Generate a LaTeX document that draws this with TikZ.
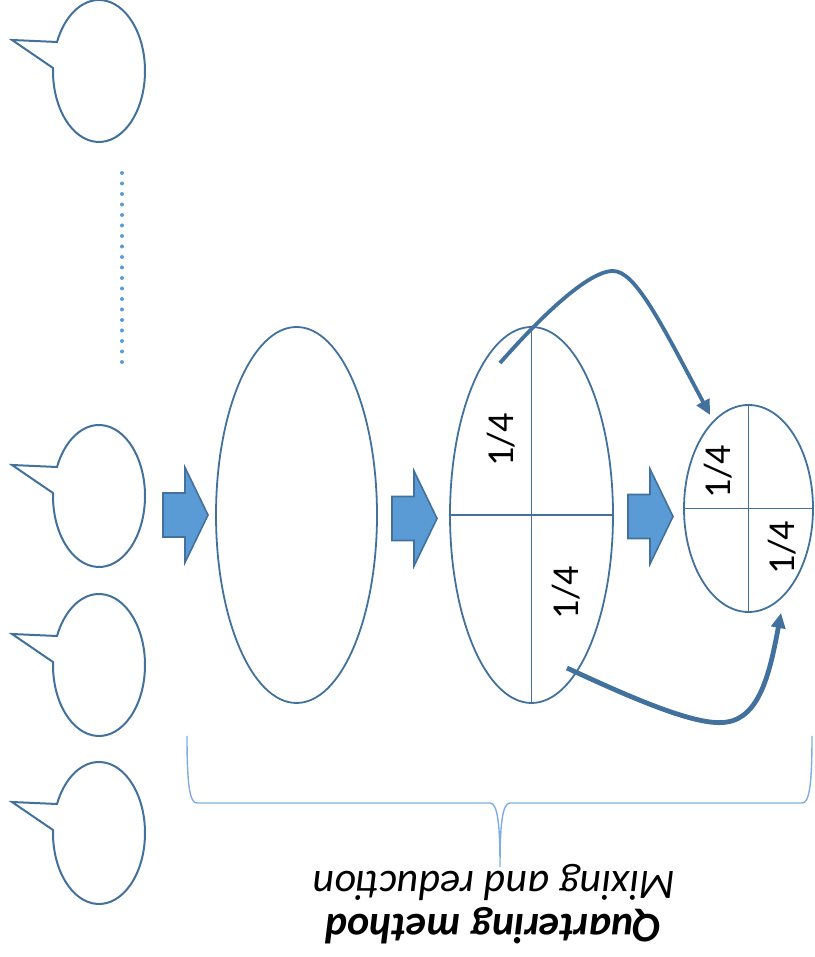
\documentclass[tikz,border=0pt]{standalone}
\usepackage{fontspec}
\setmainfont{Carlito}
\usetikzlibrary{shapes.geometric,arrows.meta,calc}
\definecolor{shapeline}{HTML}{41719C}
\definecolor{accent}{HTML}{5B9BD5}
\definecolor{bracecol}{HTML}{7FADDF}

\tikzset{
  bubble/.style={draw=shapeline, line width=2pt, line join=miter},
  sample/.style={draw=shapeline, line width=1.8pt, ellipse, inner sep=0pt},
  divider/.style={draw=shapeline, line width=1.8pt},
  blockarrow/.style={fill=accent, draw=shapeline, line width=1.6pt, line join=miter},
  transfer/.style={draw=shapeline, line width=3.8pt, -{Triangle[length=15pt,width=14pt]}},
  quarter/.style={font=\fontsize{38}{40}\selectfont, rotate=90, inner sep=0pt},
  caption/.style={font=\fontsize{42}{46}\selectfont\itshape, rotate=180, inner sep=0pt},
  dots/.style={draw=accent, line width=4pt, line cap=round, dash pattern=on 0pt off 10.5pt},
  bracket/.style={draw=bracecol, line width=1.4pt},
  blk/.pic={\path[blockarrow] (0,-22) -- (22,-22) -- (22,-47.5) -- (45,0) -- (22,47.5) -- (22,22) -- (0,22) -- cycle;}
}

\begin{document}
\begin{tikzpicture}[x=1pt,y=1pt]
\useasboundingbox (0,0) rectangle (814,957);

% speech bubbles on the left
\foreach \n/\cy in {1/886, 2/461, 3/292, 4/124} {
  \coordinate (bubble\n) at (99,\cy);
  \draw[bubble] ($(bubble\n)+(155.9:46 and 71)$) -- ($(bubble\n)+(-87,31)$)
    -- ($(bubble\n)+(177.6:46 and 71)$)
    arc[start angle=177.6, end angle=515.9, x radius=46, y radius=71] -- cycle;
}

% dotted continuation between the bubbles
\coordinate (dtop) at (122,784);
\coordinate (dbot) at (122,594);
\draw[dots] (dtop) -- (dbot);

% block arrows
\pic at (163,442) {blk};
\pic at (392,438.5) {blk};
\pic at (628,440.5) {blk};

% mixed pile, quartered pile, reduced sample
\node[sample, minimum width=161pt, minimum height=376pt] (pile) at (296.5,442) {};
\node[sample, minimum width=163pt, minimum height=376pt] (halves) at (531.5,442) {};
\draw[divider] (halves.north) -- (halves.south);
\draw[divider] (halves.west) -- (halves.east);
\node[sample, minimum width=129pt, minimum height=207pt] (portion) at (748.5,448.5) {};
\draw[divider] (portion.north) -- (portion.south);
\draw[divider] (portion.west) -- (portion.east);

% quarter labels
\node[quarter] (qa) at (501.5,517) {1/4};
\node[quarter] (qb) at (566.5,364.5) {1/4};
\node[quarter] (qc) at (718.5,485.5) {1/4};
\node[quarter] (qd) at (782.5,409.5) {1/4};

% transfer of opposite quarters
\coordinate (takeA) at (500,594);
\coordinate (dropA) at (710,542);
\draw[transfer] (takeA) .. controls (530,628) and (585,686) .. (613,686)
  .. controls (635,686) and (660,636) .. (dropA);
\coordinate (takeB) at (567,289);
\coordinate (dropB) at (781,344);
\draw[transfer, line width=4.8pt] (takeB) .. controls (640,255) and (700,230) .. (727,235)
  .. controls (760,240) and (770,285) .. (dropB);

% brace
\coordinate (bl) at (187,221);
\coordinate (br) at (812,221);
\coordinate (btip) at (500,90);
\draw[bracket] (bl) .. controls (187,170) and (190,154) .. (197,154) -- (490,154)
  .. controls (498,154) and (500,130) .. (btip)
  .. controls (500,130) and (502,154) .. (510,154) -- (802,154)
  .. controls (809,154) and (812,170) .. (br);

% captions
\node[caption] (sub) at (494,75) {Mixing and reduction};
\node[caption, font=\fontsize{42}{46}\selectfont\bfseries\itshape] (title) at (493.5,31) {Quartering method};
\end{tikzpicture}
\end{document}
